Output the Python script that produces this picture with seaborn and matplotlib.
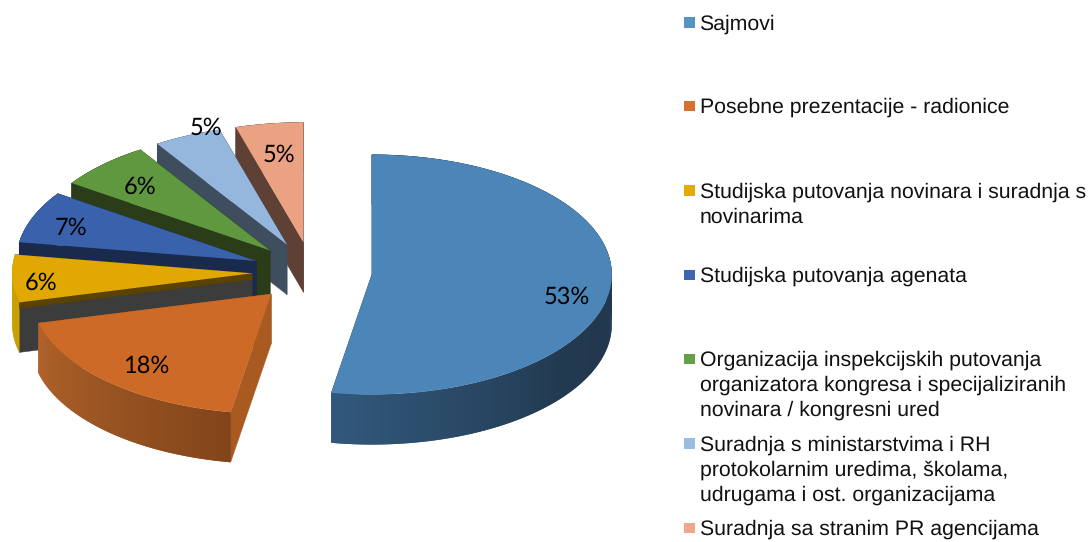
import numpy as np
import matplotlib
matplotlib.use('Agg')
import matplotlib.pyplot as plt
import seaborn as sns

# Data
categories = [
    'Sajmovi',
    'Posebne prezentacije - radionice',
    'Studijska putovanja novinara i suradnja s\nnovinarima',
    'Studijska putovanja agenata',
    'Organizacija inspekcijskih putovanja\norganizatora kongresa i specijaliziranih\nnovinara / kongresni ured',
    'Suradnja s ministarstvima i RH\nprotokolarnim uredima, školama,\nudrugama i ost. organizacijama',
    'Suradnja sa stranim PR agencijama',
]
# read from the slice corners, the printed labels are these rounded
values = [52.7, 18.4, 6.4, 7.0, 6.4, 4.55, 4.55]

# Colours
top_colors = ['#4C86B8', '#CE6A27', '#E0A800', '#3A62AC', '#5F983E', '#95B7DD', '#EBA283']
legend_colors = ['#5593C6', '#D5702E', '#E5AC00', '#3D66B0', '#669F44', '#9ABCE0', '#F0A88C']
face_colors = ['#2A4C6C', '#A85A20', '#3C3C3C', '#1A2A4C', '#2A3D18', '#3E4E5E', '#5E4035']
rim_colors = [
    ['#31587C', '#22394F', '#20364C', '#20364C'],
    ['#B0622A', '#82451A'],
    ['#C9A000', '#C9A000'],
    ['#1A2A4C', '#1A2A4C'],
    ['#2A3D18', '#2A3D18'],
    ['#3E4E5E', '#3E4E5E'],
    ['#5E4035', '#5E4035'],
]

# Layout (pixels of the 1092x542 picture)
W, H = 1092, 542
CX, CY = 312, 272    # centre of the pie before the slices are pulled out
RX, RY = 240, 120    # the tilted pie is an ellipse
DEPTH = 50 / RY
EXPLODE = 0.25
label_nudge = [(4, 14), (6, 2), (-19, 5), (-7, 2), (4, 5), (-1, -29), (3, 8)]
legend_tops = [22.5, 106, 190.5, 275, 359, 443.5, 528]
LINE_H = 25

sns.set_theme(style='white')
plt.rcParams['font.family'] = ['Liberation Sans', 'DejaVu Sans']
plt.rcParams['text.hinting'] = 'no_hinting'

fig = plt.figure(figsize=(W / 100, H / 100), dpi=100, facecolor='white')
ax = fig.add_axes([0, 0, 1, 1])

wedges, _, autotexts = ax.pie(
    values,
    explode=[EXPLODE] * len(values),
    colors=top_colors,
    startangle=90,
    counterclock=False,
    autopct='%.0f%%',
    pctdistance=0.8,
    wedgeprops={'linewidth': 0},
    textprops={'family': 'Lato', 'fontsize': 17, 'color': 'black'},
)

# pie() forces equal aspect, the squash comes from these limits
ax.set_aspect('auto')
ax.set_xlim(-CX / RX, (W - CX) / RX)
ax.set_ylim((CY - H) / RY, CY / RY)
ax.axis('off')


def edge_face(cx, cy, theta, depth, color, z):
    x = [cx, cx + np.cos(np.radians(theta)), cx + np.cos(np.radians(theta)), cx]
    y = [cy, cy + np.sin(np.radians(theta)), cy + np.sin(np.radians(theta)) - depth, cy - depth]
    ax.fill(x, y, color=color, lw=0.3, zorder=z)


# Paint back to front, the last slices of the pie sit at the back
for rank, i in enumerate(range(len(values) - 1, -1, -1)):
    w = wedges[i]
    cx, cy = w.center
    base = 10 * (rank + 1)

    # cut faces go under the rim
    edge_face(cx, cy, w.theta1, DEPTH, face_colors[i], base)
    edge_face(cx, cy, w.theta2, DEPTH, face_colors[i], base)

    # outer rim as thin strips, each one overlaps the next so no seams show
    n = max(int(w.theta2 - w.theta1), 2)
    shades = sns.blend_palette(rim_colors[i], n)
    edges = np.radians(np.linspace(w.theta1, w.theta2, n + 1))
    for k in range(n):
        xs = cx + np.cos(edges[k:k + 3])
        ys = cy + np.sin(edges[k:k + 3])
        ax.fill(np.r_[xs, xs[::-1]], np.r_[ys, ys[::-1] - DEPTH],
                color=shades[k], lw=0, zorder=base + 1 + k / n)

    w.set_zorder(base + 3)

# thin brown band on top of the grey face of the yellow slice
edge_face(*wedges[2].center, wedges[2].theta2, 6 / RY, '#5A4200', 10 * 5 + 2)

for t, (dx, dy) in zip(autotexts, label_nudge):
    x, y = t.get_position()
    t.set_position((x + dx / RX, y - dy / RY))
    t.set_zorder(200)

# Legend on a second axes in picture pixels
leg = fig.add_axes([0, 0, 1, 1])
leg.patch.set_alpha(0)
sns.scatterplot(x=[689.5] * len(categories), y=legend_tops, hue=categories,
                palette=legend_colors, marker='s', s=62, linewidth=0,
                legend=False, ax=leg)
for label, top in zip(categories, legend_tops):
    for j, line in enumerate(label.split('\n')):
        leg.text(699.5, top - 0.5 + j * LINE_H, line, fontsize=15.3, va='center_baseline',
                 ha='left', color='#111111')
leg.set_xlim(0, W)
leg.set_ylim(H, 0)
leg.axis('off')

fig.savefig('out.png', dpi=100)
